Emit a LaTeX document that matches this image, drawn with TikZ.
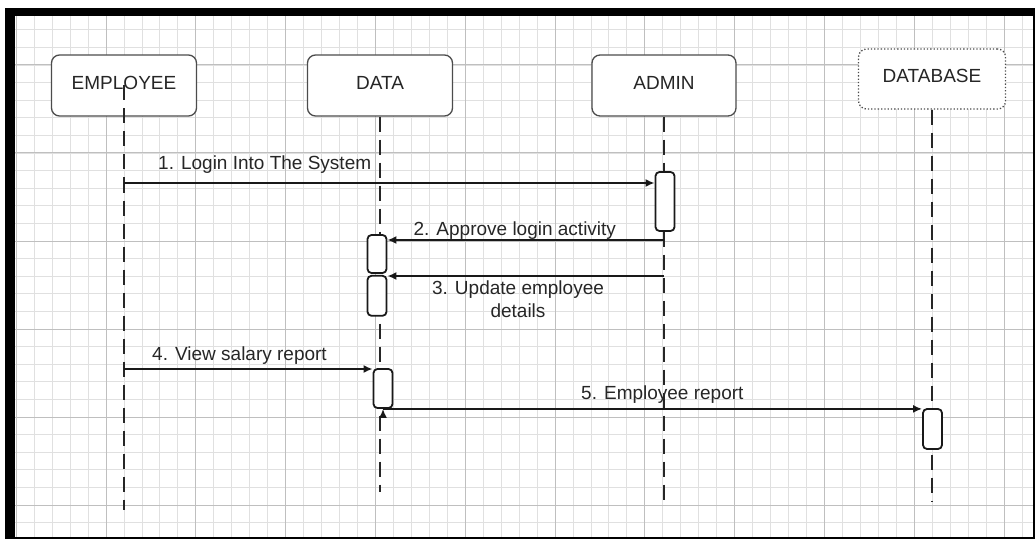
\documentclass[tikz,border=0pt]{standalone}
\usepackage{fontspec}
\setmainfont{Liberation Sans}
\usetikzlibrary{arrows.meta,positioning,calc}

\begin{document}
\begin{tikzpicture}
[x=1pt, y=-1pt, >={Latex[length=9pt,width=8pt]},
txt/.style = {text=black!85, font=\fontsize{19}{23}\selectfont},
head/.style = 
{draw=black!70, fill=white, rounded corners=8pt, line width=1.3pt,
 minimum width=145pt, minimum height=61pt, text depth=6pt, txt},
act/.style = 
{draw=black!90, fill=white, rounded corners=4pt, line width=1.8pt,
 minimum width=19pt, inner sep=0pt},
life/.style = {draw=black!85, line width=2pt, dash pattern=on 15pt off 8pt},
msg/.style = {draw=black!90, line width=2.2pt, ->},
lbl/.style = {txt, inner sep=0pt}]
\useasboundingbox (0,0) rectangle (1035,540);

% grid paper
\begin{scope}
\clip (15,16) rectangle (1034,538);
\foreach \i in {0,...,56}
  \draw[black!12, line width=0.8pt] ({16.2+17.96*\i},0) -- ({16.2+17.96*\i},540);
\foreach \i in {0,...,30}
  \draw[black!12, line width=0.8pt] (0,{12.2+17.6*\i}) -- (1035,{12.2+17.6*\i});
\foreach \i in {0,...,11}
  \draw[black!25, line width=1pt] ({16.2+89.8*\i},0) -- ({16.2+89.8*\i},540);
\foreach \i in {0,...,5}
  \draw[black!25, line width=1pt] (0,{65+88*\i}) -- (1035,{65+88*\i});
\end{scope}

% frame
\draw[line width=1.5pt] (6,9) rectangle (1034,538);
\fill (6,9) rectangle (1034,16);
\fill (6,9) rectangle (15,538);

\node [head](emp) at (124,85.5){EMPLOYEE};
\node [head](dat) at (380,85.5){DATA};
\node [head, minimum width=144pt](adm) at (664,85.5){ADMIN};
\node [head, dotted, minimum width=147pt, minimum height=60pt](db) at (932,79){DATABASE};

\coordinate (empend) at (124,510);
\coordinate (datend) at (380,492);
\coordinate (admend) at (664,500);
\coordinate (dbend) at (932,502);

\path[life]
(emp.center)--(empend)
(dat.south)--(datend)
(adm.south)--(admend)
(db.south)--(dbend);

\node [act, minimum height=59pt](admact) at (665,201.5){};
\node [act, minimum height=38pt](datact1) at (377,254){};
\node [act, minimum height=40pt, below=1pt of datact1](datact2){};
\node [act, minimum height=39pt](datact3) at (383,388.5){};
\node [act, minimum height=40pt](dbact) at (932.5,429){};

\coordinate (m1) at (124,183);
\coordinate (m2) at (664,240);
\coordinate (m3) at (664,276);
\coordinate (m4) at (124,369);

\path[msg]
(m1)edge(m1 -| admact.west)
(m2)edge(m2 -| datact1.east)
(m3)edge(m3 -| datact2.east)
(m4)edge(m4 -| datact3.west)
(datact3.south)edge(datact3.south -| dbact.west);

\node[lbl, anchor=base west] at ($(m1)+(34,-13.5)$)(t1){1. Login Into The System};
\node[lbl, anchor=base west] at ($(datact1.east |- m2)+(26,-5)$)(t2){2. Approve login activity};
\node[lbl, anchor=north, align=center] at ($(m3)+(-146,5)$)(t3){3. Update employee\\details};
\node[lbl, anchor=base west] at ($(m4)+(28,-9)$)(t4){4. View salary report};
\node[lbl, anchor=base west] at ($(datact3.south)+(198,-9)$)(t5){5. Employee report};

\end{tikzpicture}
\end{document}
